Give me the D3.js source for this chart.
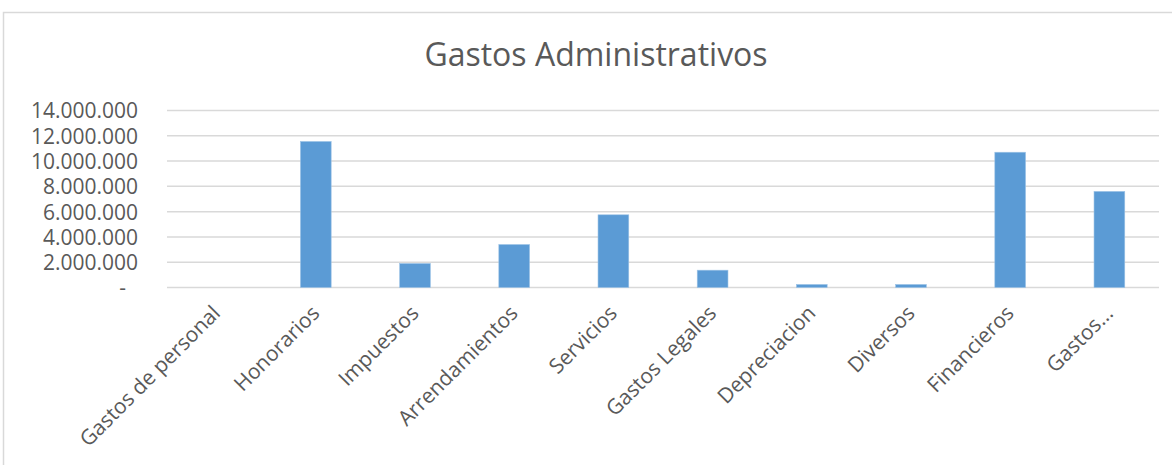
<!DOCTYPE html>
<html>
<head>
<meta charset="utf-8">
<script src="https://cdn.jsdelivr.net/npm/d3@7"></script>
<style>
  html, body { margin: 0; padding: 0; background: #fff; }
  svg { display: block; }
</style>
</head>
<body>
<svg id="chart"></svg>
<script>
// ── Data ─────────────────────────────────────────────────────────────────────
const categories = [
  'Gastos de personal', 'Honorarios', 'Impuestos', 'Arrendamientos', 'Servicios',
  'Gastos Legales', 'Depreciacion', 'Diversos', 'Financieros', 'Gastos...'
];
const values = [
  0, 11550000, 1900000, 3400000, 5750000,
  1370000, 240000, 240000, 10700000, 7600000
];
const yTicks = [0, 2000000, 4000000, 6000000, 8000000, 10000000, 12000000, 14000000];
const title = 'Gastos Administrativos';

// ── Setup ────────────────────────────────────────────────────────────────────
const width = 1172, height = 465;
const FONT = '"Open Sans", sans-serif';
const TEXT_COLOR = '#595959';
const GRID_COLOR = '#d9d9d9';
const BAR_COLOR  = '#5b9bd5';

const svg = d3.select('#chart').attr('width', width).attr('height', height);

// chart area border
svg.append('rect')
  .attr('x', 3.5).attr('y', 12.5)
  .attr('width', width + 10).attr('height', height + 10)
  .attr('fill', 'none')
  .attr('stroke', GRID_COLOR)
  .attr('stroke-width', 1.5);

const x = d3.scaleBand()
  .domain(categories)
  .range([167, 1159])
  .paddingInner(0.69)
  .paddingOuter(0.345);

const y = d3.scaleLinear()
  .domain([0, 14000000])
  .range([287.5, 110.5]);

// ── Title ────────────────────────────────────────────────────────────────────
svg.append('text')
  .attr('x', 596).attr('y', 66)
  .attr('text-anchor', 'middle')
  .attr('font-family', FONT)
  .attr('font-size', '32px')
  .attr('fill', TEXT_COLOR)
  .text(title);

// ── Gridlines ────────────────────────────────────────────────────────────────
svg.append('g')
  .selectAll('line')
  .data(yTicks)
  .join('line')
    .attr('x1', 167).attr('x2', 1159)
    .attr('y1', d => y(d)).attr('y2', d => y(d))
    .attr('stroke', GRID_COLOR)
    .attr('stroke-width', 1.5);

// ── Y axis labels ────────────────────────────────────────────────────────────
const fmt = d => d === 0 ? '-' : d3.format(',')(d).replace(/,/g, '.');
const yAxis = svg.append('g')
  .attr('transform', 'translate(138,0)')
  .call(d3.axisLeft(y).tickValues(yTicks).tickFormat(fmt).tickSize(0).tickPadding(0));
yAxis.select('.domain').remove();
yAxis.selectAll('text')
  .attr('font-family', FONT)
  .attr('font-size', '21px')
  .attr('fill', TEXT_COLOR)
  .attr('dy', '0.35em');
yAxis.selectAll('.tick').filter(d => d === 0).select('text')
  .attr('transform', 'translate(-12,0)');

// ── Bars ─────────────────────────────────────────────────────────────────────
svg.append('g')
  .selectAll('rect')
  .data(values)
  .join('rect')
    .attr('x', (d, i) => x(categories[i]))
    .attr('y', d => y(d))
    .attr('width', x.bandwidth())
    .attr('height', d => y(0) - y(d))
    .attr('fill', BAR_COLOR)
    .attr('stroke', '#9dc3e6')
    .attr('stroke-width', 0.6);

// ── X axis labels ────────────────────────────────────────────────────────────
const xAxis = svg.append('g')
  .attr('transform', `translate(0,${y(0)})`)
  .call(d3.axisBottom(x).tickSize(0).tickPadding(0));
xAxis.select('.domain').remove();
xAxis.selectAll('text')
  .attr('font-family', FONT)
  .attr('font-size', '21px')
  .attr('fill', TEXT_COLOR)
  .attr('text-anchor', 'end')
  .attr('dy', null)
  .attr('y', 0)
  .attr('transform', 'translate(5,27) rotate(-45)');
</script>
</body>
</html>
